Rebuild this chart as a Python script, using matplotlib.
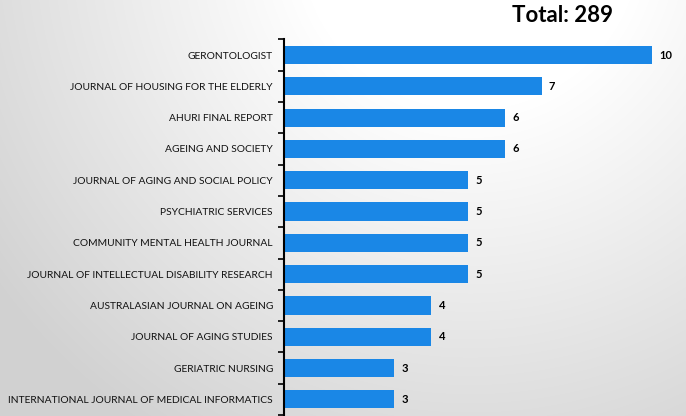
import numpy as np
import matplotlib
matplotlib.use("Agg")
import matplotlib.pyplot as plt

journals = [
    "GERONTOLOGIST",
    "JOURNAL OF HOUSING FOR THE ELDERLY",
    "AHURI FINAL REPORT",
    "AGEING AND SOCIETY",
    "JOURNAL OF AGING AND SOCIAL POLICY",
    "PSYCHIATRIC SERVICES",
    "COMMUNITY MENTAL HEALTH JOURNAL",
    "JOURNAL OF INTELLECTUAL DISABILITY RESEARCH",
    "AUSTRALASIAN JOURNAL ON AGEING",
    "JOURNAL OF AGING STUDIES",
    "GERIATRIC NURSING",
    "INTERNATIONAL JOURNAL OF MEDICAL INFORMATICS",
]
counts = [10, 7, 6, 6, 5, 5, 5, 5, 4, 4, 3, 3]
title = "Total: 289"

W, H = 686, 416
fig = plt.figure(figsize=(W / 100, H / 100), dpi=100)

# background gradient
bg = fig.add_axes([0, 0, 1, 1], zorder=0)
yy, xx = np.mgrid[0:H, 0:W]
d = np.sqrt(((xx - 470) / 1.0) ** 2 + ((yy + 60) / 1.0) ** 2)
v = 1 - 0.18 * np.clip((d - 170) / 420, 0, 1)
img = np.dstack([v, v, v])
bg.imshow(img, aspect="auto", extent=[0, 1, 0, 1], origin="upper")
bg.set_axis_off()

ax = fig.add_axes([284 / W, 1 / H, 1 - 284 / W, (415 - 39.4) / H], zorder=1)
ax.patch.set_alpha(0)
y = np.arange(len(journals))
ax.barh(y, counts, height=0.58, color="#1a87e6")
ax.set_ylim(len(journals) - 0.5, -0.5)
ax.set_xlim(0, 402 / 36.8)
ax.set_yticks(y)
ax.set_yticklabels(journals, fontfamily="Lato", fontsize=7.4, color="#111111")
ax.set_yticks(np.arange(-0.5, len(journals), 1), minor=True)
ax.tick_params(axis="y", which="major", length=0, pad=8)
ax.tick_params(axis="y", which="minor", length=4, width=1.2, color="black", direction="out")
ax.set_xticks([])
for s in ["top", "right", "bottom"]:
    ax.spines[s].set_visible(False)
ax.spines["left"].set_linewidth(1.5)

for yi, c in zip(y, counts):
    ax.text(c + 0.2, yi, str(c), va="center", ha="left", fontsize=8,
            fontweight="bold", fontfamily="Lato")

fig.text(563 / W, 1 - 15 / H, title, ha="center", va="center", fontsize=16,
         fontweight="bold", fontfamily="Lato")

fig.savefig("out.png", dpi=100)
